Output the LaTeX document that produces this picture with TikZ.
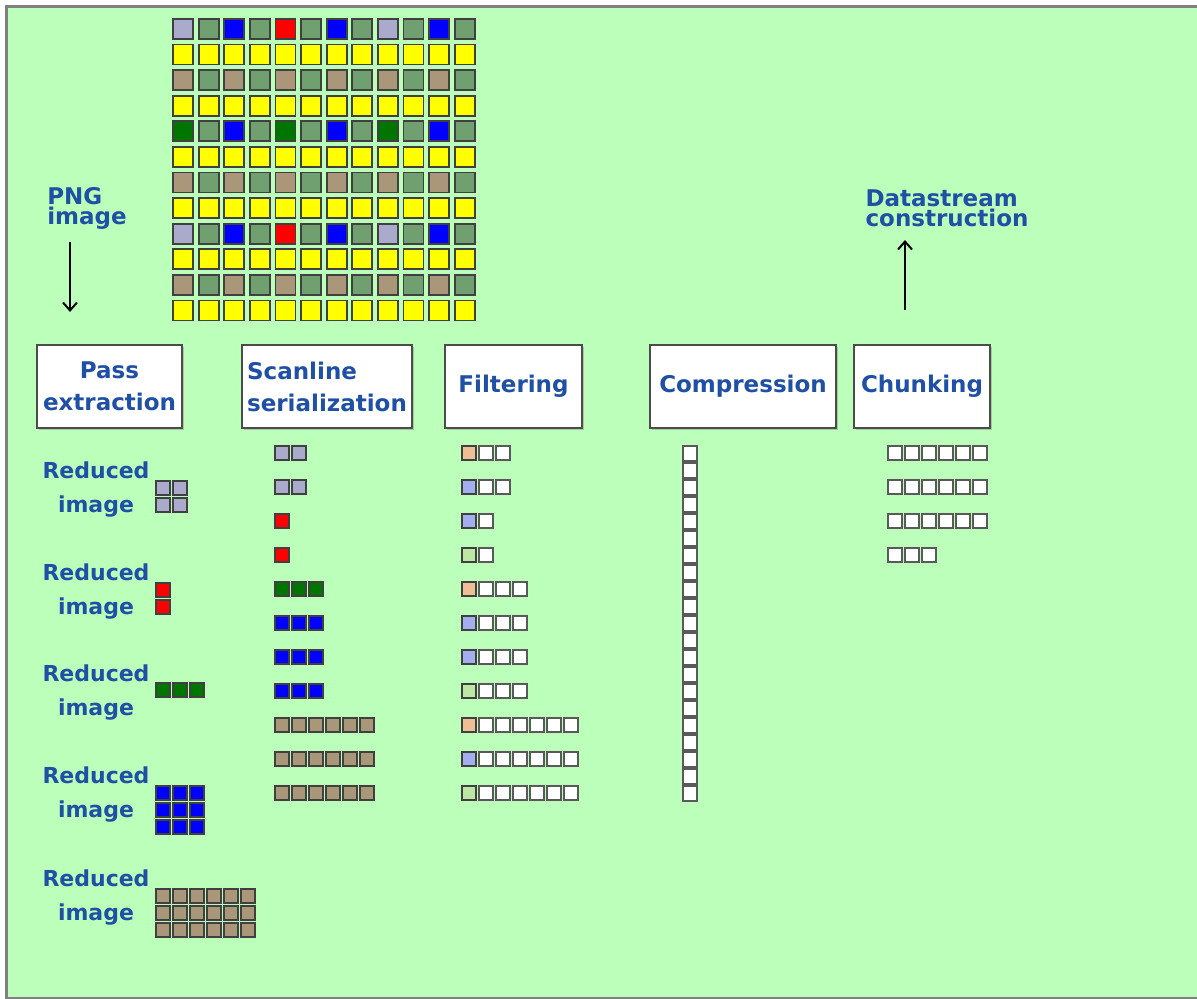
\documentclass[tikz,border=0pt]{standalone}
\usepackage{fontspec}
\setmainfont{DejaVu Sans}
\usetikzlibrary{arrows.meta,shadows}
\definecolor{bggreen}{RGB}{187,255,187}
\definecolor{framegray}{RGB}{128,128,128}
\definecolor{textblue}{RGB}{31,80,165}
\definecolor{passone}{RGB}{170,170,204}
\definecolor{passtwo}{RGB}{255,0,0}
\definecolor{passthree}{RGB}{0,118,0}
\definecolor{passfour}{RGB}{0,0,255}
\definecolor{passfive}{RGB}{170,150,120}
\definecolor{passsix}{RGB}{112,160,112}
\definecolor{passseven}{RGB}{255,255,0}
\definecolor{filtpeach}{RGB}{240,190,150}
\definecolor{filtblue}{RGB}{165,175,240}
\definecolor{filtgreen}{RGB}{190,230,165}

\begin{document}
\begin{tikzpicture}[
    x=0.5pt, y=-0.5pt,
    stage/.style={
        rectangle, draw=black!70, fill=white, line width=0.6pt,
        minimum height=41.5pt, inner sep=0pt,
        align=center, text=textblue,
        font=\fontsize{11.5}{16}\selectfont\bfseries,
        drop shadow={shadow xshift=1pt, shadow yshift=-1pt, opacity=0.4}
    },
    caption/.style={text=textblue, inner sep=0pt, align=left,
        font=\fontsize{11.5}{10}\selectfont\bfseries},
    reduced/.style={text=textblue, inner sep=0pt, align=center,
        font=\fontsize{11}{17}\selectfont\bfseries},
    pix/.style={draw=black!75, line width=0.9pt},
    byte/.style={draw=black!65, fill=white, line width=0.8pt},
    arrow/.style={-{Straight Barb[length=4pt,width=7pt]}, line width=1pt}
]

\useasboundingbox (0,0) rectangle (1197,999);
\fill[white] (0,0) rectangle (1197,999);
\fill[framegray] (5,5) rectangle (1197,999);
\fill[bggreen] (8,8) rectangle (1197,997);

% PNG image, 12x12 pixels, Adam7 passes
\foreach \r in {1,3,...,11}
    \foreach \c in {0,...,11}
        \draw[pix, fill=passseven] ({173+25.6*\c},{19+25.6*\r}) rectangle ++(20,20);
\foreach \r in {0,2,...,10}
    \foreach \c in {1,3,...,11}
        \draw[pix, fill=passsix] ({173+25.6*\c},{19+25.6*\r}) rectangle ++(20,20);
\foreach \rowcols [count=\k from 0] in {
    {passone,passfour,passtwo,passfour,passone,passfour},
    {passfive,passfive,passfive,passfive,passfive,passfive},
    {passthree,passfour,passthree,passfour,passthree,passfour},
    {passfive,passfive,passfive,passfive,passfive,passfive},
    {passone,passfour,passtwo,passfour,passone,passfour},
    {passfive,passfive,passfive,passfive,passfive,passfive}}
    \foreach \col [count=\j from 0] in \rowcols
        \draw[pix, fill=\col] ({173+51.2*\j},{19+51.2*\k}) rectangle ++(20,20);

\node[caption] (png) at (87,208) {PNG\\image};
\node[caption] (stream) at (947,208) {Datastream\\construction};

\coordinate (pngtail) at (70,242);
\coordinate (pnghead) at (70,312);
\coordinate (streamtail) at (905,310);
\coordinate (streamhead) at (905,240);
\draw[arrow] (pngtail) -- (pnghead);
\draw[arrow] (streamtail) -- (streamhead);

% stages
\node[stage, minimum width=72.5pt] (pass) at (109.5,386.5) {Pass\\extraction};
\node[stage, minimum width=85pt, align=left] (scan) at (327,386.5) {Scanline\\serialization};
\node[stage, minimum width=68.5pt] (filter) at (513.5,386.5) {Filtering};
\node[stage, minimum width=93pt] (compress) at (743,386.5) {Compression};
\node[stage, minimum width=68pt] (chunk) at (922,386.5) {Chunking};

% reduced images
\node[reduced] (reduced1) at (96,490) {Reduced\\image};
\node[reduced] (reduced2) at (96,592) {Reduced\\image};
\node[reduced] (reduced3) at (96,693) {Reduced\\image};
\node[reduced] (reduced4) at (96,795) {Reduced\\image};
\node[reduced] (reduced5) at (96,898) {Reduced\\image};

\foreach \ytop/\cols/\rows/\col in {481/2/2/passone, 583/1/2/passtwo,
        683/3/1/passthree, 786/3/3/passfour, 889/6/3/passfive}
    \foreach \i in {1,...,\cols}
        \foreach \j in {1,...,\rows}
            \draw[pix, fill=\col] ({156+17*(\i-1)},{\ytop+17*(\j-1)}) rectangle ++(14,14);

% scanlines
\foreach \y/\n/\col in {453/2/passone, 487/2/passone, 521/1/passtwo, 555/1/passtwo,
        589/3/passthree, 623/3/passfour, 657/3/passfour, 691/3/passfour,
        725/6/passfive, 759/6/passfive, 793/6/passfive}
    \foreach \c in {1,...,\n}
        \draw[pix, fill=\col] ({275+17*(\c-1)},{\y-7}) rectangle ++(14,14);

% filtered scanlines
\foreach \y/\n/\col in {453/2/filtpeach, 487/2/filtblue, 521/1/filtblue, 555/1/filtgreen,
        589/3/filtpeach, 623/3/filtblue, 657/3/filtblue, 691/3/filtgreen,
        725/6/filtpeach, 759/6/filtblue, 793/6/filtgreen}{
    \draw[pix, fill=\col] (462,{\y-7}) rectangle ++(14,14);
    \foreach \c in {1,...,\n}
        \draw[byte] ({462+17*\c},{\y-7}) rectangle ++(14,14);
}

% compressed stream
\foreach \k in {0,...,20}
    \draw[byte] (683,{446+17*\k}) rectangle ++(14,15);

% chunks
\foreach \y/\n in {453/6, 487/6, 521/6, 555/3}
    \foreach \c in {1,...,\n}
        \draw[byte] ({888+17*(\c-1)},{\y-7}) rectangle ++(14,14);

\end{tikzpicture}
\end{document}
